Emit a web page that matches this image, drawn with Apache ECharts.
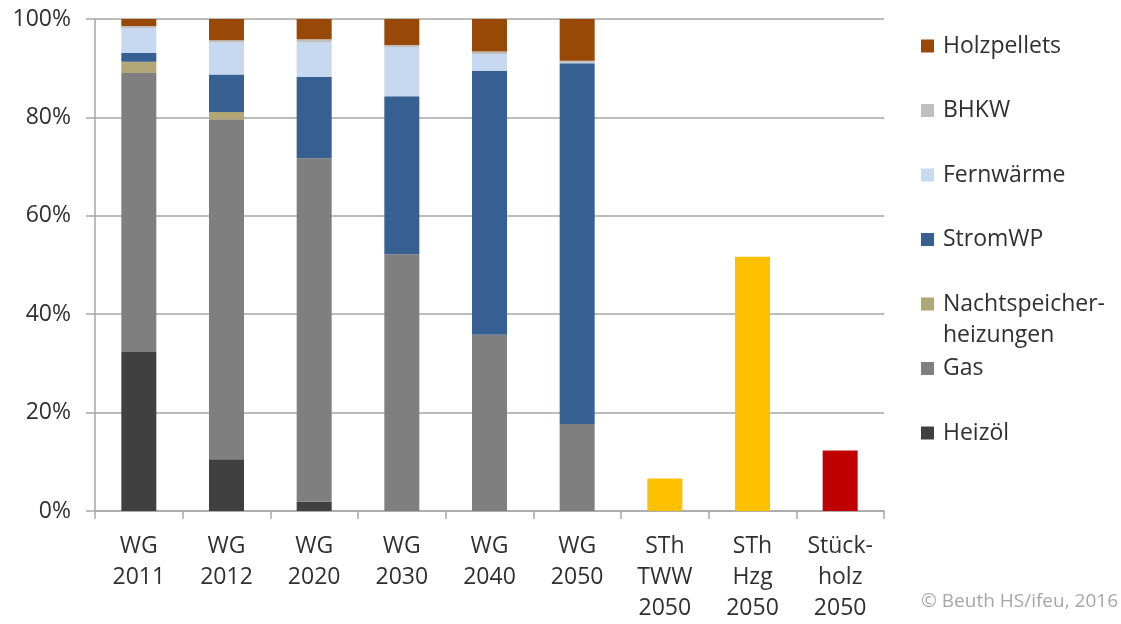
<!DOCTYPE html>
<html>
<head>
<meta charset="utf-8">
<script src="https://cdn.jsdelivr.net/npm/echarts@6/dist/echarts.min.js"></script>
<style>
  html, body { margin: 0; padding: 0; background: #ffffff; }
  #chart { width: 1121px; height: 624px; }
</style>
</head>
<body>
<div id="chart"></div>
<script>
// Kategorien (x-Achse)
const categories = ['WG\n2011', 'WG\n2012', 'WG\n2020', 'WG\n2030', 'WG\n2040', 'WG\n2050',
  'STh\nTWW\n2050', 'STh\nHzg\n2050', 'Stück-\nholz\n2050'];

// Anteile der Wärmeerzeuger in Prozent (WG 2011 … WG 2050)
const heizoel        = [32.3, 10.5, 1.9, 0, 0, 0];
const gas            = [56.7, 69.1, 69.8, 52.2, 35.8, 17.7];
const nachtspeicher  = [2.3, 1.5, 0, 0, 0, 0];
const stromWP        = [1.8, 7.6, 16.5, 32.1, 53.7, 73.3];
const fernwaerme     = [5.0, 6.5, 7.0, 9.9, 3.4, 0.1];
const bhkw           = [0.5, 0.5, 0.7, 0.5, 0.5, 0.4];
const holzpellets    = [1.4, 4.3, 4.1, 5.3, 6.6, 8.5];

// Einzelbalken: Solarthermie (TWW, Hzg) und Stückholz, jeweils 2050
const solarthermie   = [6.6, 51.7];
const stueckholz     = [12.3];

// Achsenbeschriftung
const yTicks = [0, 20, 40, 60, 80, 100];

const FONT = '"Open Sans", sans-serif';
const TEXT = '#303030';

// Reihenfolge von unten nach oben im Stapel
const stacked = [
  { name: 'Heizöl', data: heizoel, color: '#404040' },
  { name: 'Gas', data: gas, color: '#7f7f7f' },
  { name: 'Nachtspeicherheizungen', data: nachtspeicher, color: '#b0a676' },
  { name: 'StromWP', data: stromWP, color: '#366092' },
  { name: 'Fernwärme', data: fernwaerme, color: '#c6d9f1' },
  { name: 'BHKW', data: bhkw, color: '#bfbfbf' },
  { name: 'Holzpellets', data: holzpellets, color: '#984807' }
];

const pad = (arr, before) => {
  const out = categories.map(() => '-');
  arr.forEach((v, i) => { out[before + i] = v; });
  return out;
};

const series = stacked.map(s => ({
  name: s.name,
  type: 'bar',
  stack: 'anteil',
  barWidth: 35,
  itemStyle: { color: s.color },
  emphasis: { disabled: true },
  data: pad(s.data, 0)
}));
series.push({
  name: 'Solarthermie', type: 'bar', stack: 'anteil', barWidth: 35,
  itemStyle: { color: '#ffc000' }, emphasis: { disabled: true },
  data: pad(solarthermie, 6)
});
series.push({
  name: 'Stückholz', type: 'bar', stack: 'anteil', barWidth: 35,
  itemStyle: { color: '#c00000' }, emphasis: { disabled: true },
  data: pad(stueckholz, 8)
});

// Legende: von oben nach unten, gleichmäßiger Abstand
const legendOrder = ['Holzpellets', 'BHKW', 'Fernwärme', 'StromWP', 'Nachtspeicherheizungen', 'Gas', 'Heizöl'];
const LH = 31;
const firstCenter = 46, step = 64.5;
const legends = legendOrder.map((name, i) => {
  const center = firstCenter + i * step;
  const twoLine = name === 'Nachtspeicherheizungen';
  return {
    data: [name],
    orient: 'vertical',
    left: 921,
    top: twoLine ? center - 1.5 * LH : center - LH / 2,
    padding: 0,
    itemWidth: 13,
    itemHeight: 13,
    icon: 'rect',
    selectedMode: false,
    formatter: n => (n === 'Nachtspeicherheizungen' ? '\nNachtspeicher-\nheizungen' : n),
    textStyle: { fontFamily: FONT, fontSize: 23, color: TEXT, lineHeight: LH, padding: [0, 0, 0, 4] }
  };
});

const chart = echarts.init(document.getElementById('chart'), null, { renderer: 'canvas' });
chart.setOption({
  animation: false,
  backgroundColor: '#ffffff',
  grid: { left: 95, right: 237, top: 19, bottom: 113, containLabel: false },
  legend: legends,
  xAxis: {
    type: 'category',
    data: categories,
    boundaryGap: true,
    axisLine: { lineStyle: { color: '#a6a6a6', width: 1.5 } },
    axisTick: { show: true, length: 8, alignWithLabel: false, lineStyle: { color: '#a6a6a6', width: 1.5 } },
    axisLabel: { interval: 0, margin: 20, fontFamily: FONT, fontSize: 23, color: TEXT, lineHeight: LH }
  },
  yAxis: {
    type: 'value',
    min: yTicks[0],
    max: yTicks[yTicks.length - 1],
    interval: yTicks[1] - yTicks[0],
    axisLine: { show: true, lineStyle: { color: '#a6a6a6', width: 1.5 } },
    axisTick: { show: true, inside: false, length: 9, lineStyle: { color: '#a6a6a6', width: 1.5 } },
    splitLine: { show: true, lineStyle: { color: '#a6a6a6', width: 1.5 } },
    axisLabel: { margin: 24, fontFamily: FONT, fontSize: 23, color: TEXT, formatter: '{value}%' }
  },
  graphic: [{
    type: 'text',
    right: 3,
    top: 592,
    style: { text: '© Beuth HS/ifeu, 2016', fontFamily: FONT, fontSize: 19, fill: '#a6a6a6' }
  }],
  series: series
});
</script>
</body>
</html>
